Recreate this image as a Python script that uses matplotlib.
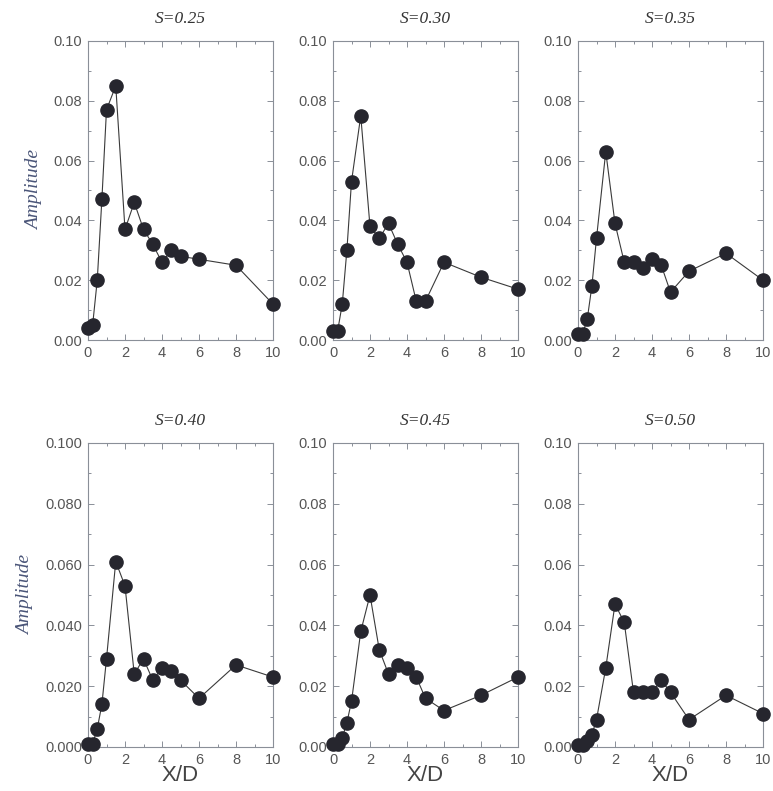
import matplotlib
matplotlib.use("Agg")
import matplotlib.pyplot as plt
from matplotlib.ticker import MultipleLocator, FormatStrFormatter

# X/D stations shared by all panels
xd = [0, 0.25, 0.5, 0.75, 1.0, 1.5, 2.0, 2.5, 3.0, 3.5, 4.0, 4.5, 5.0, 6.0, 8.0, 10.0]

titles = ["S=0.25", "S=0.30", "S=0.35", "S=0.40", "S=0.45", "S=0.50"]

amp_025 = [0.004, 0.005, 0.020, 0.047, 0.077, 0.085, 0.037, 0.046, 0.037, 0.032,
           0.026, 0.030, 0.028, 0.027, 0.025, 0.012]
amp_030 = [0.003, 0.003, 0.012, 0.030, 0.053, 0.075, 0.038, 0.034, 0.039, 0.032,
           0.026, 0.013, 0.013, 0.026, 0.021, 0.017]
amp_035 = [0.002, 0.002, 0.007, 0.018, 0.034, 0.063, 0.039, 0.026, 0.026, 0.024,
           0.027, 0.025, 0.016, 0.023, 0.029, 0.020]
amp_040 = [0.001, 0.001, 0.006, 0.014, 0.029, 0.061, 0.053, 0.024, 0.029, 0.022,
           0.026, 0.025, 0.022, 0.016, 0.027, 0.023]
amp_045 = [0.001, 0.001, 0.003, 0.008, 0.015, 0.038, 0.050, 0.032, 0.024, 0.027,
           0.026, 0.023, 0.016, 0.012, 0.017, 0.023]
amp_050 = [0.0005, 0.0005, 0.002, 0.004, 0.009, 0.026, 0.047, 0.041, 0.018, 0.018,
           0.018, 0.022, 0.018, 0.009, 0.017, 0.011]

series = [amp_025, amp_030, amp_035, amp_040, amp_045, amp_050]
yfmt = ["%.2f", "%.2f", "%.2f", "%.3f", "%.2f", "%.2f"]

W, H = 773, 791
fig = plt.figure(figsize=(W / 100, H / 100), dpi=100)

lefts = [88, 333, 578]
rows = [(41, 340), (443, 747)]  # (top, bottom) in pixels
frame_col = "#8a8f98"
tick_col = "#555555"

for i, (vals, title) in enumerate(zip(series, titles)):
    r, c = divmod(i, 3)
    top, bot = rows[r]
    ax = fig.add_axes([lefts[c] / W, 1 - bot / H, 185 / W, (bot - top) / H])

    ax.plot(xd, vals, "-o", color="#3a3a3a", lw=0.8,
            markersize=9.5, markerfacecolor="#26262e", markeredgecolor="#26262e",
            clip_on=False, zorder=3)

    ax.set_xlim(0, 10)
    ax.set_ylim(0, 0.10)
    ax.xaxis.set_major_locator(MultipleLocator(2))
    ax.xaxis.set_minor_locator(MultipleLocator(1))
    ax.yaxis.set_major_locator(MultipleLocator(0.02))
    ax.yaxis.set_minor_locator(MultipleLocator(0.01))
    ax.yaxis.set_major_formatter(FormatStrFormatter(yfmt[i]))

    ax.tick_params(which="both", direction="in", top=True, right=True,
                   color=frame_col, width=0.7, labelcolor=tick_col, labelsize=10.5)
    ax.tick_params(which="major", length=4, pad=4)
    ax.tick_params(which="minor", length=2.5)
    for lab in ax.get_xticklabels() + ax.get_yticklabels():
        lab.set_family("Liberation Sans")
    for sp in ax.spines.values():
        sp.set_color(frame_col)
        sp.set_linewidth(0.8)

    ax.set_title(title, fontsize=12.5, family="Liberation Serif", style="italic",
                 color="#333333", pad=13)
    if c == 0:
        ax.set_ylabel("Amplitude", fontsize=14, family="Liberation Serif",
                      style="italic", color="#4a5578", labelpad=8)
    if r == 1:
        ax.set_xlabel("X/D", fontsize=16, family="Liberation Sans",
                      color="#444444", labelpad=-1)

plt.savefig("out.png", dpi=100)
plt.close()
